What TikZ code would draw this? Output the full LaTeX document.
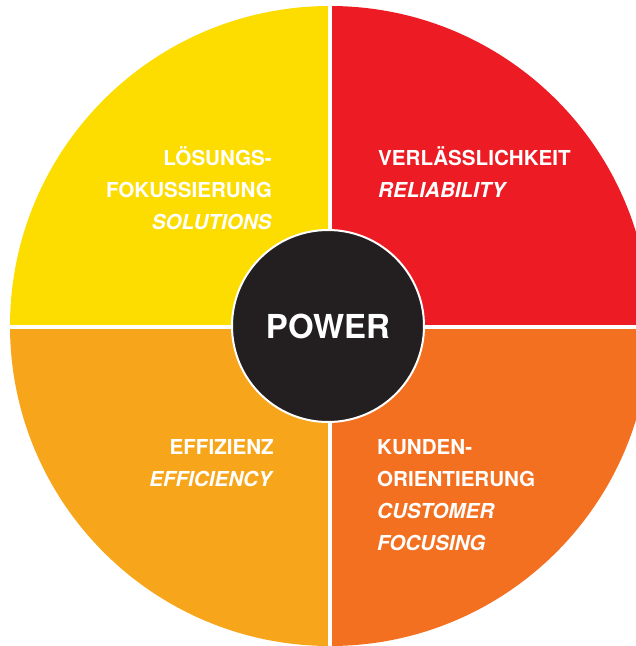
\documentclass[tikz,border=0pt]{standalone}
\usepackage{fontspec}
\setmainfont{TeX Gyre Heros}
\definecolor{qyellow}{HTML}{FDDC00}
\definecolor{qred}{HTML}{ED1C24}
\definecolor{qamber}{HTML}{F7A61C}
\definecolor{qorange}{HTML}{F37021}
\definecolor{qblack}{HTML}{231F20}
\tikzset{
  lbl/.style={text=white, font=\bfseries\fontsize{20.6}{31.8}\selectfont, inner sep=0pt},
  lblr/.style={lbl, align=right, anchor=base east},
  lbll/.style={lbl, align=left, anchor=base west},
  gap/.style={white, line width=3.5pt}
}
\begin{document}
\begin{tikzpicture}[x=1pt,y=-1pt]
\useasboundingbox (0,0) rectangle (636,646);
\begin{scope}
  \clip (0,0) rectangle (636,646);
  \clip (330,326) circle[radius=320];
  \fill[qyellow] (0,0) rectangle (330,327);
  \fill[qred] (330,0) rectangle (660,327);
  \fill[qamber] (0,327) rectangle (330,660);
  \fill[qorange] (330,327) rectangle (660,660);
  \draw[gap] (330,0) -- (330,660);
  \draw[gap] (0,327) -- (660,327);
\end{scope}
\node[circle, fill=qblack, draw=white, line width=2pt, minimum size=192pt, inner sep=0pt,
      text=white, font=\bfseries\fontsize{33}{36}\selectfont] (power) at (328,326) {POWER};
\node[lblr] (sol) at (272,229) {LÖSUNGS-\\FOKUSSIERUNG\\\textit{SOLUTIONS}};
\node[lbll] (rel) at (378,197) {VERLÄSSLICHKEIT\\\textit{RELIABILITY}};
\node[lblr] (eff) at (274,486) {EFFIZIENZ\\\textit{EFFICIENCY}};
\node[lbll] (cus) at (377,550) {KUNDEN-\\ORIENTIERUNG\\\textit{CUSTOMER}\\\textit{FOCUSING}};
\end{tikzpicture}
\end{document}
